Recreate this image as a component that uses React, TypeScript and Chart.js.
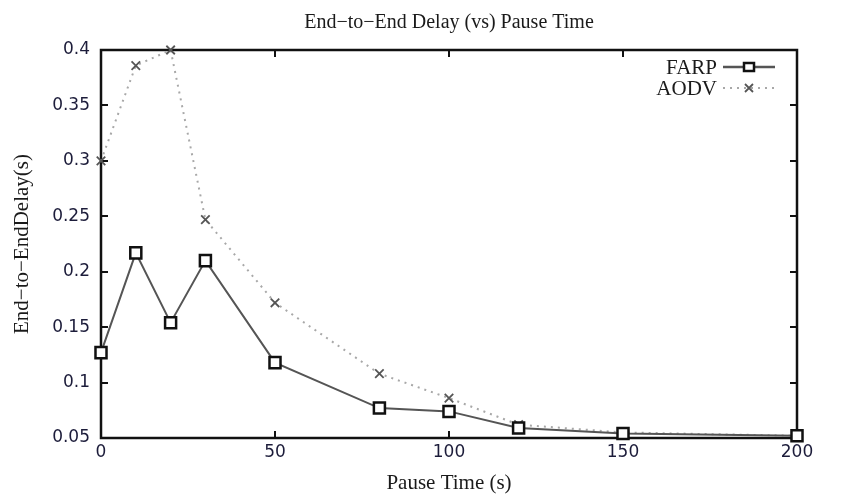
import React, { useEffect, useRef } from 'react';
import { Chart, registerables } from 'chart.js';

Chart.register(...registerables);

const pauseTimes = [0, 10, 20, 30, 50, 80, 100, 120, 150, 200];
const farpDelay = [0.127, 0.217, 0.154, 0.21, 0.118, 0.077, 0.074, 0.059, 0.054, 0.052];
const aodvDelay = [0.3, 0.386, 0.4, 0.247, 0.172, 0.108, 0.086, 0.062, 0.055, 0.052];
const xTickValues = [0, 50, 100, 150, 200];
const yTickValues = [0.05, 0.1, 0.15, 0.2, 0.25, 0.3, 0.35, 0.4];
const seriesNames = ['FARP', 'AODV'];
const chartTitle = 'End\u2212to\u2212End Delay (vs) Pause Time';
const xTitle = 'Pause Time (s)';
const yTitle = 'End\u2212to\u2212EndDelay(s)';

const SERIF = '"Liberation Serif", "Times New Roman", serif';
const SANS = '"DejaVu Sans", sans-serif';

const decorPlugin = {
  id: 'gnuplotDecor',
  beforeDatasetsDraw(chart: any) {
    const { ctx, chartArea: a, scales } = chart;
    ctx.save();
    ctx.strokeStyle = '#111';
    ctx.lineWidth = 2;
    const tl = 7;
    ctx.beginPath();
    scales.x.ticks.forEach((t: any) => {
      const px = Math.round(scales.x.getPixelForValue(t.value));
      ctx.moveTo(px, a.bottom);
      ctx.lineTo(px, a.bottom - tl);
      ctx.moveTo(px, a.top);
      ctx.lineTo(px, a.top + tl);
    });
    scales.y.ticks.forEach((t: any) => {
      const py = Math.round(scales.y.getPixelForValue(t.value));
      ctx.moveTo(a.left, py);
      ctx.lineTo(a.left + tl, py);
      ctx.moveTo(a.right, py);
      ctx.lineTo(a.right - tl, py);
    });
    ctx.stroke();
    ctx.lineWidth = 2.5;
    ctx.strokeRect(a.left, a.top, a.right - a.left, a.bottom - a.top);
    ctx.restore();
  },
  afterDraw(chart: any) {
    const { ctx, chartArea: a } = chart;
    ctx.save();
    // title
    ctx.fillStyle = '#1a1a1a';
    ctx.font = `20px ${SERIF}`;
    ctx.textAlign = 'center';
    ctx.textBaseline = 'middle';
    ctx.fillText(chartTitle, (a.left + a.right) / 2, 23);

    // legend
    const ds = chart.data.datasets;
    const textRight = a.right - 80;
    const lineStart = a.right - 74;
    const lineEnd = a.right - 22;
    const mid = (lineStart + lineEnd) / 2;
    ds.forEach((d: any, i: number) => {
      const y = a.top + 17 + i * 21;
      ctx.font = `21px ${SERIF}`;
      ctx.textAlign = 'right';
      ctx.textBaseline = 'middle';
      ctx.fillStyle = '#1a1a1a';
      ctx.fillText(d.label, textRight, y + 1);
      ctx.beginPath();
      ctx.strokeStyle = d.borderColor;
      ctx.lineWidth = d.borderWidth + (i === 0 ? 0.5 : 0);
      ctx.setLineDash(d.borderDash || []);
      ctx.moveTo(lineStart, y);
      ctx.lineTo(lineEnd, y);
      ctx.stroke();
      ctx.setLineDash([]);
      ctx.strokeStyle = d.pointBorderColor;
      ctx.lineWidth = d.pointBorderWidth;
      if (d.pointStyle === 'rect') {
        ctx.fillStyle = '#fff';
        ctx.fillRect(mid - 5, mid * 0 + y - 4, 10, 8);
        ctx.strokeRect(mid - 5, y - 4, 10, 8);
      } else {
        const r = 4;
        ctx.beginPath();
        ctx.moveTo(mid - r, y - r);
        ctx.lineTo(mid + r, y + r);
        ctx.moveTo(mid + r, y - r);
        ctx.lineTo(mid - r, y + r);
        ctx.stroke();
      }
    });
    ctx.restore();
  },
};

export default function App() {
  const canvasRef = useRef<HTMLCanvasElement | null>(null);

  useEffect(() => {
    if (!canvasRef.current) return;
    const chart = new Chart(canvasRef.current, {
      type: 'line',
      data: {
        datasets: [
          {
            label: seriesNames[0],
            data: pauseTimes.map((x, i) => ({ x, y: farpDelay[i] })),
            borderColor: '#555',
            borderWidth: 2,
            pointStyle: 'rect',
            pointRadius: 7.8,
            pointBorderWidth: 2.5,
            pointBorderColor: '#111',
            pointBackgroundColor: '#fff',
            clip: false,
          } as any,
          {
            label: seriesNames[1],
            data: pauseTimes.map((x, i) => ({ x, y: aodvDelay[i] })),
            borderColor: '#a8a8a8',
            borderWidth: 2,
            borderDash: [2, 5],
            pointStyle: 'crossRot',
            pointRadius: 6,
            pointBorderWidth: 1.8,
            pointBorderColor: '#555',
            pointBackgroundColor: '#555',
            clip: false,
          } as any,
        ],
      },
      options: {
        responsive: false,
        animation: false,
        layout: { padding: { top: 50, right: 61, left: 0, bottom: 0 } },
        plugins: {
          legend: { display: false },
          title: { display: false },
          tooltip: { enabled: false },
        },
        scales: {
          x: {
            type: 'linear',
            min: 0,
            max: 200,
            grid: { display: false, drawTicks: false, tickLength: 0 },
            border: { display: false },
            afterBuildTicks: (s: any) => {
              s.ticks = xTickValues.map((v) => ({ value: v }));
            },
            afterFit: (s: any) => {
              s.height = 61;
            },
            ticks: {
              padding: 4,
              color: '#1c1c3a',
              font: { family: SANS, size: 17 },
              maxRotation: 0,
            },
            title: {
              display: true,
              text: xTitle,
              color: '#1a1a1a',
              font: { family: SERIF, size: 21 },
              padding: { top: 0, bottom: 3 },
            },
          },
          y: {
            type: 'linear',
            min: 0.05,
            max: 0.4,
            grid: { display: false, drawTicks: false, tickLength: 0 },
            border: { display: false },
            afterBuildTicks: (s: any) => {
              s.ticks = yTickValues.map((v) => ({ value: v }));
            },
            afterFit: (s: any) => {
              s.width = 101;
            },
            ticks: {
              padding: 11,
              color: '#1c1c3a',
              font: { family: SANS, size: 17 },
              callback: (v: any) => String(Number(Number(v).toFixed(2))),
            },
            title: {
              display: true,
              text: yTitle,
              color: '#1a1a1a',
              font: { family: SERIF, size: 21 },
              padding: { top: 10, bottom: 0 },
            },
          },
        },
      } as any,
      plugins: [decorPlugin],
    });
    return () => chart.destroy();
  }, []);

  return (
    <div style={{ position: 'absolute', left: 0, top: 0, width: 858, height: 499, background: '#fff' }}>
      <canvas ref={canvasRef} width={858} height={499} style={{ display: 'block' }} />
    </div>
  );
}
